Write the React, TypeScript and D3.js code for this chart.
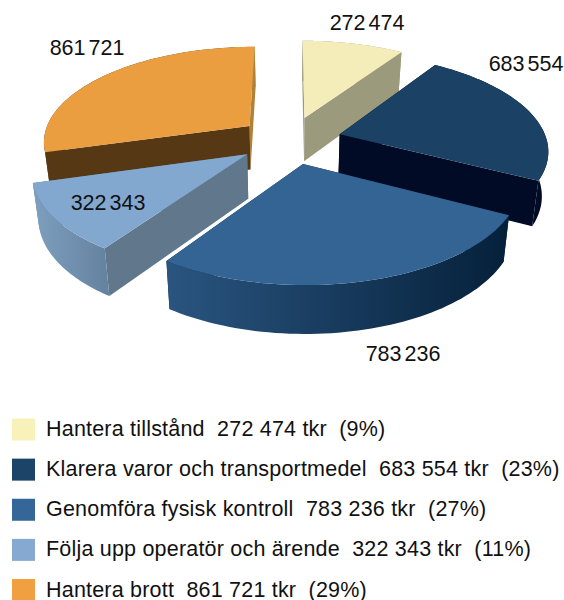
import * as d3 from 'd3'

const width = 564
const height = 600

const categories = [
  'Hantera tillstånd',
  'Klarera varor och transportmedel',
  'Genomföra fysisk kontroll',
  'Följa upp operatör och ärende',
  'Hantera brott',
]
const values = [272474, 683554, 783236, 322343, 861721]
const valueLabels = ['272 474', '683 554', '783 236', '322 343', '861 721']
const shares = ['9%', '23%', '27%', '11%', '29%']

const topColors = ['#f5edb9', '#1b4265', '#336494', '#82a8cf', '#ea9e3f']
const legendColors = ['#f8f1ba', '#1c4468', '#356698', '#85a9d0', '#f0a040']
const cutStartColors = ['#9c9a7c', '#020b26', '#06223c', '#60778c', '#573814']
const cutEndColors = ['#9c9a7c', '#020b26', '#06223c', '#60778c', '#b08238']
const rimFrom = ['#9c9a7c', '#020b26', '#2a5580', '#7f9fc0', '#573814']
const rimTo = ['#9c9a7c', '#020b26', '#05203a', '#64829e', '#b08238']

// top to bottom on screen: back slices first so the front ones cover them
const paintOrder = [0, 4, 1, 3, 2]

const labelPos = [[367, 30], [526, 71], [403, 361], [108, 210], [87, 55]]

const cx = 290
const cy = 140
const scaleX = 207
const scaleY = 95
const persp = 0.15
const explode = 0.25
const depth = 44
const depthPersp = 0.08
const bottomShrink = 0.975

const project = (u: number, v: number, drop: boolean): [number, number] => {
  const s = 1 / (1 + persp * v)
  const x = scaleX * u * s
  const y = -scaleY * v * s
  if (!drop) return [cx + x, cy + y]
  return [cx + x * bottomShrink, cy + y + depth / (1 + depthPersp * v)]
}

const pieGen = d3.pie<number>().sort(null).value(d => d)
const slices = pieGen(values)
const line = d3.line()

function App() {
  const legendY = d3.scaleLinear().domain([0, 4]).range([429.5, 590])

  return (
    <svg width={width} height={height} style={{ position: 'absolute', left: 0, top: 0 }} fontFamily="'Liberation Sans', Arial, sans-serif">
      <defs>
        {slices.map((s, i) => (
          <linearGradient key={i} id={`rim${i}`} gradientUnits="objectBoundingBox" x1="0" x2="1" y1="0" y2="0">
            <stop offset="0" stopColor={rimFrom[i]} />
            <stop offset={i === 4 ? 0.9 : 1} stopColor={i === 4 ? rimFrom[i] : rimTo[i]} />
            <stop offset={i === 4 ? 0.9 : 1} stopColor={rimTo[i]} />
          </linearGradient>
        ))}
      </defs>
      {paintOrder.map(i => {
        const s = slices[i]
        const mid = (s.startAngle + s.endAngle) / 2
        const ou = explode * Math.sin(mid)
        const ov = explode * Math.cos(mid)
        const at = (a: number, drop: boolean) =>
          project(ou + Math.sin(a), ov + Math.cos(a), drop)
        const apex = project(ou, ov, false)
        const apexLow = project(ou, ov, true)
        const angles = d3.range(0, 61).map(k => s.startAngle + (s.endAngle - s.startAngle) * k / 60)
        const rimTop = angles.map(a => at(a, false))
        const rimLow = angles.map(a => at(a, true))
        const cut = (a: number) => line([apex, at(a, false), at(a, true), apexLow]) + 'Z'
        return (
          <g key={i}>
            <path d={cut(s.endAngle)} fill={cutEndColors[i]} />
            <path d={cut(s.startAngle)} fill={cutStartColors[i]} />
            <path d={line([...rimTop, ...rimLow.slice().reverse()]) + 'Z'} fill={`url(#rim${i})`} />
            <path d={line([apex, ...rimTop]) + 'Z'} fill={topColors[i]} />
          </g>
        )
      })}
      {valueLabels.map((t, i) => (
        <text key={i} x={labelPos[i][0]} y={labelPos[i][1]} fontSize={21.5} wordSpacing={-3} textAnchor="middle" fill="#111">{t}</text>
      ))}
      {categories.map((c, i) => (
        <g key={c} transform={`translate(0,${legendY(i)})`}>
          <rect x={12} y={-11} width={23} height={22} fill={legendColors[i]} />
          <text x={46} y={6.5} fontSize={21.5} letterSpacing={0.2} fill="#111" xmlSpace="preserve">
            {`${c}  ${valueLabels[i]} tkr  (${shares[i]})`}
          </text>
        </g>
      ))}
    </svg>
  )
}

export default App
